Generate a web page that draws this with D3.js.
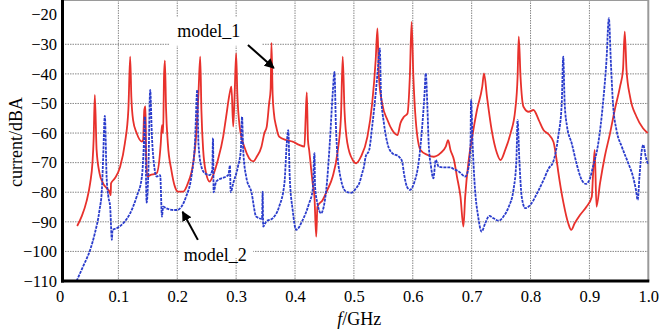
<!DOCTYPE html>
<html>
<head>
<meta charset="utf-8">
<script src="https://cdn.jsdelivr.net/npm/d3@7"></script>
<style>
  body { margin: 0; background: #fff; }
  svg text { font-family: "Liberation Serif", "Times New Roman", serif; fill: #000; }
</style>
</head>
<body>
<script>
// model_1 (red, solid)
var freq1 = [0.030,0.038,0.046,0.052,0.056,0.058,0.060,0.063,0.068,0.074,0.086,0.087,0.0875,0.094,0.103,0.111,0.117,0.120,0.122,0.125,
  0.131,0.140,0.142,0.144,0.146,0.147,0.149,0.154,0.165,0.172,0.174,0.176,0.1775,0.179,0.181,0.184,0.190,0.196,0.201,0.210,
  0.218,0.227,0.232,0.236,0.239,0.241,0.244,0.249,0.255,0.261,0.269,0.278,0.283,0.289,0.292,0.295,0.2975,0.300,0.302,0.306,
  0.3145,0.322,0.329,0.335,0.343,0.348,0.352,0.356,0.3586,0.360,0.362,0.364,0.368,0.373,0.385,0.396,0.407,0.416,0.418,0.420,
  0.422,0.424,0.430,0.433,0.436,0.438,0.447,0.455,0.464,0.472,0.478,0.481,0.484,0.489,0.498,0.504,0.512,0.523,0.531,0.537,
  0.540,0.5425,0.548,0.557,0.565,0.574,0.579,0.585,0.591,0.595,0.598,0.601,0.605,0.613,0.625,0.636,0.647,0.656,0.660,0.664,
  0.670,0.675,0.681,0.686,0.689,0.695,0.701,0.709,0.718,0.721,0.726,0.734,0.743,0.749,0.757,0.766,0.774,0.778,0.780,0.783,
  0.788,0.797,0.805,0.814,0.822,0.831,0.839,0.844,0.847,0.856,0.864,0.869,0.875,0.884,0.895,0.904,0.906,0.909,0.912,0.918,
  0.926,0.935,0.943,0.952,0.957,0.960,0.963,0.969,0.980,0.991,0.999];
var model1 = [-91.4,-88,-83,-77,-70,-62,-47.1,-65.7,-73.6,-77,-80.4,-81,-77,-75.3,-71.4,-63.5,-52,-34.2,-47.7,-55.6,
  -60,-62.9,-62.3,-52.2,-51,-65.7,-74.7,-74.2,-73.6,-63.5,-57.3,-60,-41,-35.5,-52,-63.5,-72.5,-78.1,-79.8,-79.8,
  -77,-70.2,-61.2,-46.6,-34.2,-52.2,-65.7,-73.6,-76.4,-74.2,-69.1,-61.2,-54.5,-46.6,-44.3,-57.8,-46.6,-33.1,-46.6,-57.8,
  -65,-68.5,-69.6,-68,-64.6,-60,-57.8,-50,-45,-29.5,-47,-53,-57.8,-61.2,-62.4,-62.9,-64,-64.6,-55,-46.3,
  -62.4,-65.7,-77,-81.5,-95,-84.9,-82.6,-79.2,-74.7,-66.8,-54.5,-34.2,-52.2,-63.5,-69.1,-70.2,-68,-61.2,-50,-35.3,
  -24.6,-41,-50,-55.6,-59,-60.7,-56.7,-54.5,-53.4,-41,-22.4,-41,-55.6,-65.7,-67.4,-68,-66.8,-64.6,-62.4,-65.7,
  -69.1,-74.7,-81.5,-91.6,-81.5,-69.1,-61.2,-52.2,-44.3,-39.8,-47.7,-59,-66.8,-69.1,-65.7,-60.1,-52.2,-41,-27.4,-41,
  -51.1,-52.8,-52.2,-55.6,-59,-60.5,-63,-68.7,-73,-83.7,-90.5,-92.7,-90.5,-87.7,-84.9,-81.5,-74.7,-65.7,-84.9,-77,
  -68,-60.1,-52.2,-44.3,-38.7,-25.7,-38.7,-47.7,-54.5,-58.4,-60];

// model_2 (blue, dashed)
var freq2 = [0.029,0.040,0.052,0.060,0.068,0.072,0.074,0.077,0.080,0.083,0.086,0.089,0.090,0.097,0.108,0.120,0.131,0.140,0.143,0.145,
  0.148,0.151,0.154,0.157,0.161,0.165,0.171,0.174,0.176,0.181,0.193,0.200,0.207,0.215,0.224,0.230,0.234,0.236,0.241,0.247,
  0.255,0.2595,0.2607,0.2618,0.266,0.275,0.283,0.287,0.2895,0.2907,0.295,0.303,0.308,0.310,0.312,0.317,0.326,0.334,0.344,0.345,
  0.346,0.351,0.362,0.373,0.382,0.386,0.3885,0.391,0.396,0.402,0.413,0.424,0.430,0.433,0.434,0.438,0.444,0.453,0.459,0.464,
  0.467,0.4695,0.475,0.4865,0.495,0.5035,0.509,0.514,0.517,0.520,0.526,0.531,0.537,0.541,0.544,0.546,0.551,0.557,0.565,0.5765,
  0.582,0.585,0.590,0.595,0.602,0.6105,0.616,0.620,0.622,0.625,0.627,0.631,0.635,0.639,0.644,0.653,0.664,0.670,0.678,0.689,
  0.695,0.698,0.699,0.7016,0.705,0.711,0.717,0.723,0.730,0.737,0.746,0.754,0.763,0.771,0.776,0.778,0.781,0.785,0.791,0.7995,
  0.811,0.822,0.831,0.8385,0.847,0.853,0.8555,0.858,0.862,0.870,0.878,0.887,0.894,0.901,0.906,0.915,0.923,0.929,0.933,0.9365,
  0.940,0.946,0.955,0.966,0.974,0.979,0.982,0.985,0.989,0.9915,0.9956,0.9995];
var model2 = [-110,-105.1,-99.5,-93.9,-86,-79.2,-69.1,-54.2,-74.7,-81.5,-84.9,-96.1,-92.7,-92.2,-90.5,-87.1,-81.5,-74.7,-65,-54.5,
  -83.5,-72.5,-45.4,-61.2,-71.4,-74.7,-74.2,-88.2,-84.9,-85.4,-86,-86,-84.9,-81.5,-74.7,-63.5,-45.4,-63.5,-71.4,-73.6,
  -74.2,-72.5,-61.7,-80,-76.4,-75.3,-74.7,-74,-71,-80,-77,-71.4,-65.7,-54.5,-65.7,-74.7,-80,-88.2,-89,-79.8,
  -91.6,-89.9,-88.8,-84.9,-77,-63.5,-59,-74.7,-86,-92.7,-89.4,-83.7,-79.2,-66.8,-78,-83.7,-87.1,-79.2,-63.5,-46.6,
  -39.3,-57.8,-72.5,-79.8,-80.2,-78.7,-77,-73.6,-71.4,-68,-65.7,-57.8,-46.6,-37.6,-31.4,-46.6,-56.7,-63.5,-66.8,-68,
  -69.7,-73.6,-78.1,-79.2,-77,-69.1,-57.8,-46.6,-39.8,-52.2,-63.5,-71.4,-75.3,-69.1,-71.4,-71.6,-71.6,-72.2,-73,-74.7,
  -71.4,-63.5,-48.8,-63.5,-77,-88.2,-93.3,-90.5,-88,-88.8,-89.6,-88.2,-84.9,-79.2,-69.1,-55.6,-69.1,-81.5,-85.4,-84.3,
  -80.4,-75.9,-71.9,-69.7,-61.2,-50,-34.2,-50,-57.8,-63.5,-70.2,-75.9,-77.2,-75.3,-71.4,-63.5,-50,-35.3,-21.2,-36.4,
  -50,-59,-64.6,-70.2,-74.7,-79.2,-82.6,-74.7,-65.7,-64,-68,-70.5];

var xTicks = [0, 0.1, 0.2, 0.3, 0.4, 0.5, 0.6, 0.7, 0.8, 0.9, 1.0];
var xTickLabels = ['0', '0.1', '0.2', '0.3', '0.4', '0.5', '0.6', '0.7', '0.8', '0.9', '1.0'];
var yTicks = [-20, -30, -40, -50, -60, -70, -80, -90, -100, -110];

var width = 660, height = 329;
var serif = '"Liberation Serif", "Times New Roman", serif';

//scales
var x = d3.scaleLinear().domain([0, 1]).range([59.5, 648.3]);
var y = d3.scaleLinear().domain([-110, -20]).range([281, 14.7]);
var left = 62.5, right = x(1), top = y(-20), bottom = y(-110);

var svg = d3.select('body').append('svg')
    .attr('width', width)
    .attr('height', height);

//grid
var grid = svg.append('g')
    .attr('stroke', '#888')
    .attr('stroke-width', 1)
    .attr('stroke-dasharray', '1.5,1');
grid.selectAll('.vg')
    .data(xTicks.slice(1, -1))
    .enter().append('line')
        .attr('x1', function (d) { return x(d); })
        .attr('x2', function (d) { return x(d); })
        .attr('y1', top)
        .attr('y2', bottom);
grid.selectAll('.hg')
    .data(yTicks.slice(1, -1))
    .enter().append('line')
        .attr('x1', left)
        .attr('x2', right)
        .attr('y1', function (d) { return y(d); })
        .attr('y2', function (d) { return y(d); });

//white boxes behind the labels
svg.append('rect')
    .attr('x', x(0.187)).attr('y', y(-20.8))
    .attr('width', x(0.344) - x(0.187)).attr('height', y(-30.5) - y(-20.8))
    .attr('fill', '#fff');
svg.append('rect')
    .attr('x', x(0.204)).attr('y', y(-95.8))
    .attr('width', x(0.329) - x(0.204)).attr('height', y(-102.2) - y(-95.8))
    .attr('fill', '#fff');

//frame: gray top/right
svg.append('line')
    .attr('x1', left).attr('x2', right).attr('y1', top).attr('y2', top)
    .attr('stroke', '#9a9a9a').attr('stroke-width', 2);
svg.append('line')
    .attr('x1', right).attr('x2', right).attr('y1', top).attr('y2', bottom)
    .attr('stroke', '#9a9a9a').attr('stroke-width', 2);

//curves
var line = d3.line()
    .curve(d3.curveMonotoneX)
    .x(function (d) { return x(d[0]); })
    .y(function (d) { return y(d[1]); });

svg.append('path')
    .datum(d3.zip(freq1, model1))
    .attr('d', line)
    .attr('fill', 'none')
    .attr('stroke', '#e8312c')
    .attr('stroke-width', 1.8)
    .attr('stroke-linejoin', 'round');

svg.append('path')
    .datum(d3.zip(freq2, model2))
    .attr('d', line)
    .attr('fill', 'none')
    .attr('stroke', '#2a3ccc')
    .attr('stroke-width', 1.8)
    .attr('stroke-dasharray', '3,1')
    .attr('stroke-linejoin', 'round');

//frame: black left/bottom
svg.append('line')
    .attr('x1', left).attr('x2', left).attr('y1', top - 1).attr('y2', bottom + 1.5)
    .attr('stroke', '#000').attr('stroke-width', 3);
svg.append('line')
    .attr('x1', left - 1.5).attr('x2', right + 1).attr('y1', bottom).attr('y2', bottom)
    .attr('stroke', '#000').attr('stroke-width', 3);

//axes (labels only)
var yaxis = d3.axisLeft(y).tickValues(yTicks).tickSize(0).tickPadding(5).tickFormat(d3.format('d'));
var xaxis = d3.axisBottom(x).tickValues(xTicks).tickSize(0).tickPadding(9)
    .tickFormat(function (d, i) { return xTickLabels[i]; });

var gy = svg.append('g').attr('transform', 'translate(' + (left - 0.5) + ',0)').call(yaxis);
var gx = svg.append('g').attr('transform', 'translate(0,' + bottom + ')').call(xaxis);
[gy, gx].forEach(function (g) {
    g.attr('font-family', null).attr('font-size', null);
    g.select('.domain').remove();
    g.selectAll('text')
        .style('font-family', serif)
        .style('font-size', '16.5px')
        .attr('fill', '#000');
});

//axis titles
svg.append('text')
    .attr('transform', 'translate(22,' + y(-63) + ') rotate(-90)')
    .attr('text-anchor', 'middle')
    .style('font-family', serif)
    .style('font-size', '18px')
    .text('current/dBA');

var xt = svg.append('text')
    .attr('x', x(0.509))
    .attr('y', 325)
    .attr('text-anchor', 'middle')
    .style('font-family', serif)
    .style('font-size', '18px');
xt.append('tspan').attr('font-style', 'italic').text('f');
xt.append('tspan').text('/GHz');

//annotations
var notes = [
    { text: 'model_1', tx: 0.200, ty: -27.5, from: [0.320, -30.2], to: [0.364, -38] },
    { text: 'model_2', tx: 0.211, ty: -103.2, from: [0.235, -96.1], to: [0.209, -86.6] }
];

svg.append('defs').append('marker')
    .attr('id', 'head')
    .attr('viewBox', '0 0 10 10')
    .attr('refX', 9).attr('refY', 5)
    .attr('markerWidth', 5).attr('markerHeight', 5)
    .attr('markerUnits', 'strokeWidth')
    .attr('orient', 'auto')
  .append('path')
    .attr('d', 'M0,0 L10,5 L0,10 Z')
    .attr('fill', '#000');

notes.forEach(function (n) {
    svg.append('text')
        .attr('x', x(n.tx))
        .attr('y', y(n.ty))
        .style('font-family', serif)
        .style('font-size', '18px')
        .text(n.text);
    svg.append('line')
        .attr('x1', x(n.from[0])).attr('y1', y(n.from[1]))
        .attr('x2', x(n.to[0])).attr('y2', y(n.to[1]))
        .attr('stroke', '#000')
        .attr('stroke-width', 2)
        .attr('marker-end', 'url(#head)');
});
</script>
</body>
</html>
